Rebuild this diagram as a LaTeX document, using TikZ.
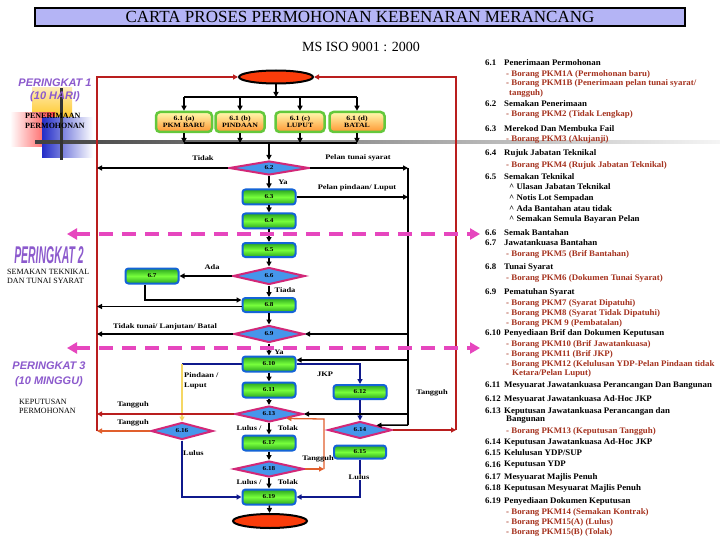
\documentclass[tikz,border=0pt]{standalone}
\usepackage{fontspec}
\setmainfont{Liberation Serif}
\newfontfamily\lblfont{Liberation Serif}[FakeStretch=1.2]
\newfontfamily\rcfont{Liberation Serif}[FakeStretch=1.04]
\newfontfamily\wafont{Liberation Sans}
\usetikzlibrary{shapes.geometric,arrows.meta,calc}
\definecolor{procblue}{RGB}{20,100,215}
\definecolor{limeA}{RGB}{40,165,30}
\definecolor{limeB}{RGB}{120,255,60}
\definecolor{optgreen}{RGB}{100,200,60}
\definecolor{optY}{RGB}{255,250,175}
\definecolor{optO}{RGB}{255,150,50}
\definecolor{decfill}{RGB}{70,150,235}
\definecolor{decline}{RGB}{210,40,120}
\definecolor{termfill}{RGB}{250,60,10}
\definecolor{loopred}{RGB}{185,30,30}
\definecolor{tangorange}{RGB}{225,95,45}
\definecolor{navy}{RGB}{15,25,140}
\definecolor{yelline}{RGB}{245,215,100}
\definecolor{pinkdash}{RGB}{230,70,190}
\definecolor{borang}{RGB}{165,50,30}
\definecolor{wapurple}{RGB}{140,90,205}
\definecolor{titlefill}{RGB}{180,180,245}
\definecolor{yell}{RGB}{255,200,40}
\definecolor{decored}{RGB}{255,60,60}
\definecolor{decoblue}{RGB}{35,45,200}
\newcounter{rcc}
\newcommand\rcHead[3]{\stepcounter{rcc}\node[rc] (rcn\arabic{rcc}) at (485,#1) {#2};\node[rc] (rct\arabic{rcc}) at (504,#1) {#3};}
\newcommand\rcBor[2]{\stepcounter{rcc}\node[rc,text=borang] (rcb\arabic{rcc}) at (506,#1) {- #2};}
\newcommand\rcTxt[4]{\stepcounter{rcc}\node[rc,text=#3] (rcx\arabic{rcc}) at (#1,#2) {#4};}
\begin{document}
\begin{tikzpicture}[x=1pt,y=-1pt,
  blk/.style={draw=black, line width=1.5pt},
  arr/.style={blk, -{Triangle[length=5pt,width=5pt]}},
  navyl/.style={draw=navy, line width=1.3pt},
  navyarr/.style={navyl, -{Triangle[length=5pt,width=5pt]}},
  redl/.style={draw=loopred, line width=1.3pt},
  redarr/.style={redl, -{Triangle[length=5pt,width=5pt]}},
  orarr/.style={draw=tangorange, line width=1.3pt, -{Triangle[length=5pt,width=5pt]}},
  yelarr/.style={draw=yelline, line width=1.3pt, -{Triangle[length=5pt,width=5pt,fill=orange]}},
  pdash/.style={draw=pinkdash, line width=3.5pt, dash pattern=on 14pt off 9pt, {Triangle[length=10pt,width=11pt]}-{Triangle[length=10pt,width=11pt]}},
  proc/.style={rectangle, rounded corners=3pt, draw=procblue, line width=2pt, top color=limeA, bottom color=limeA, middle color=limeB, minimum width=53pt, minimum height=15pt, inner sep=0, font=\lblfont\bfseries\fontsize{6}{6}\selectfont},
  opt/.style={rectangle, rounded corners=4pt, draw=optgreen, line width=2.5pt, top color=optY, bottom color=optO, minimum height=20pt, inner sep=0, align=center, font=\lblfont\bfseries\fontsize{6.5}{7.5}\selectfont},
  dec/.style={diamond, aspect=4, draw=decline, fill=decfill, line width=2pt, inner sep=0, font=\lblfont\bfseries\fontsize{6}{6}\selectfont},
  term/.style={ellipse, draw=black, line width=2pt, fill=termfill, minimum width=74pt, minimum height=13pt, inner sep=0},
  lbl/.style={inner sep=0, font=\lblfont\bfseries\fontsize{7}{7}\selectfont},
  rc/.style={anchor=west, inner sep=0, font=\rcfont\bfseries\fontsize{8.5}{9}\selectfont},
  wa/.style={inner sep=0, text=wapurple, font=\wafont\bfseries\itshape\fontsize{11}{11}\selectfont},
  lt/.style={inner sep=0, anchor=west, align=left, font=\fontsize{8}{9}\selectfont}]
\useasboundingbox (0,0) rectangle (720,540);
\fill[white] (0,0) rectangle (720,540);
% template decoration
\shade[top color=yell!35, bottom color=yell] (32,88) rectangle (72,118);
\shade[left color=white, right color=decored] (10,113) rectangle (55,147);
\shade[left color=decoblue, right color=white] (42,118) rectangle (93,158);
\shade[left color=black!75, right color=black!4] (35,140.5) rectangle (720,143.5);
\fill[black!80] (60,88) rectangle (63,160);
% title
\node[draw, line width=2.5pt, fill=titlefill, minimum width=650pt, minimum height=18pt, inner sep=0, font=\fontsize{17}{18}\selectfont] (title) at (360,17) {CARTA PROSES PERMOHONAN KEBENARAN MERANCANG};
\node[font=\fontsize{14}{14}\selectfont, inner sep=0] (iso) at (361,47) {MS ISO 9001 : 2000};
% left texts
\node[wa] (pk1) at (55,83) {PERINGKAT 1};
\node[wa] (pk1b) at (55,97) {(10 HARI)};
\node[lt, font=\bfseries\fontsize{8}{9.5}\selectfont] (st1) at (25,121) {PENERIMAAN\\PERMOHONAN};
\node[wa] (pk2) at (49,255) {\scalebox{0.95}[2.2]{PERINGKAT 2}};
\node[lt] (st2) at (7,276) {SEMAKAN TEKNIKAL\\DAN TUNAI SYARAT};
\node[wa] (pk3) at (49,366) {PERINGKAT 3};
\node[wa] (pk3b) at (49,382) {(10 MINGGU)};
\node[lt] (st3) at (19,406) {KEPUTUSAN\\PERMOHONAN};
% nodes
\node[term] (start) at (276,77) {};
\node[opt, minimum width=56pt] (a) at (184,122) {6.1 (a)\\PKM BARU};
\node[opt, minimum width=49pt] (b) at (240,122) {6.1 (b)\\PINDAAN};
\node[opt, minimum width=49pt] (c) at (300,122) {6.1 (c)\\LUPUT};
\node[opt, minimum width=55pt] (d) at (357,122) {6.1 (d)\\BATAL};
\node[dec, minimum width=80pt, minimum height=14pt] (d62) at (269,168) {6.2};
\node[proc] (p63) at (269,197) {6.3};
\node[proc] (p64) at (269,221) {6.4};
\node[proc, minimum height=14pt] (p65) at (269,250) {6.5};
\node[dec, minimum width=72pt, minimum height=17pt] (d66) at (269,276) {6.6};
\node[proc] (p67) at (152,276) {6.7};
\node[proc, minimum height=14pt] (p68) at (269,305) {6.8};
\node[dec, minimum width=70pt, minimum height=17pt] (d69) at (269,334) {6.9};
\node[proc] (p610) at (269,364) {6.10};
\node[proc] (p611) at (269,390) {6.11};
\node[dec, minimum width=68pt, minimum height=16pt] (d613) at (269,414) {6.13};
\node[proc] (p617) at (269,443) {6.17};
\node[dec, minimum width=70pt, minimum height=16pt] (d618) at (269,469) {6.18};
\node[proc] (p619) at (269,497) {6.19};
\node[term, minimum height=14pt] (end) at (270,521) {};
\node[dec, minimum width=62pt, minimum height=17pt] (d616) at (182,431) {6.16};
\node[proc, minimum height=14pt] (p612) at (360,392) {6.12};
\node[dec, minimum width=64pt, minimum height=17pt] (d614) at (360,430) {6.14};
\node[proc, minimum width=52pt, minimum height=13pt] (p615) at (360,452) {6.15};
% coordinates
\coordinate (jt) at (276,97);
\coordinate (jb) at (269,143);
\coordinate (LT) at (97,77);
\coordinate (LB) at (97,431);
\coordinate (RT) at (456,77);
\coordinate (RB) at (456,430);
\coordinate (VT) at (408,168);
\coordinate (VB) at (408,425);
\coordinate (tg1) at (324,469);
\coordinate (tg2) at (324,419);
% red loops
\draw[redarr] (LB) -- (LT) -- (start.west);
\draw[redarr] (RB) -- (RT) -- (start.east);
% top distribution
\draw[arr] (start.south) -- (jt);
\draw[blk] (a|-jt) -- (d|-jt);
\foreach \n in {a,b,c,d} {\draw[arr] (\n|-jt) -- (\n.north); \draw[arr] (\n.south) -- (\n|-jb);}
\draw[blk] (a|-jb) -- (d|-jb);
\draw[arr] (jb) -- (d62.north);
% right black collector
\draw[blk] (VT) -- (VB);
\draw[arr] (d62.east) -- (VT);
\draw[arr] (p63.east) -- (p63.east -| VT);
\draw[arr] (d62.west) -- (d62.west -| LT);
% main column
\draw[arr] (d62) -- (p63);
\draw[arr] (p63) -- (p64);
\draw[arr] (p64) -- (p65);
\draw[arr] (p65) -- (d66);
\draw[arr] (d66.west) -- (p67.east);
\draw[arr] (d66) -- (p68);
\draw[arr] ([xshift=-7pt]p67.south) |- ([yshift=5pt]p68.west);
\draw[arr] ([yshift=-1.5pt]p68.west) -- ([yshift=-1.5pt]p68.west -| LT);
\draw[arr] (p68) -- (d69);
\draw[arr] (d69.west) -- (d69.west -| LT);
\draw[arr] (d69.east -| VT) -- (d69.east);
\draw[arr] (d69) -- (p610);
\draw[arr] ([yshift=4pt]p610.east -| VT) -- ([yshift=4pt]p610.east);
\draw[navyl] (p610.west) -- (p610.west -| d616);
\draw[yelarr] (p610.west -| d616) -- (d616.north);
\draw[navyarr] (p610.east) -| (p612.north);
\draw[arr] (p610) -- (p611);
\draw[arr] (p611) -- (d613);
\draw[navyarr] (p612) -- (d614.north);
\draw[arr] (d613.east -| VT) -- (d613.east);
\draw[arr] (VB) -- (d614.north east);
\draw[redarr] (d614.east) -- (RB);
\draw[redarr] (d613.west) -- (d613.west -| LT);
\draw[orarr] (d616.west) -- (LB);
\draw[arr] (d613) -- (p617);
\draw[arr] (p617) -- (d618);
\draw[orarr] (d618.east) -- (tg1);
\draw[orarr] (tg1) -- (tg2) -- (d613.south east);
\draw[arr] (d618) -- (p619);
\draw[navyarr] (d616.south) |- (p619.west);
\draw[navyarr] (p615.south) |- (p619.east);
\draw[arr] (p619) -- (end);
% dashed phase lines
\coordinate (dl1) at (67,234); \coordinate (dr1) at (480,234);
\coordinate (dl2) at (67,348); \coordinate (dr2) at (480,348);
\draw[pdash] (dl1) -- (dr1);
\draw[pdash] (dl2) -- (dr2);
% labels
\node[lbl] (l1) at (203,158) {Tidak};
\node[lbl] (l2) at (358,158) {Pelan tunai syarat};
\node[lbl] (l3) at (283,182) {Ya};
\node[lbl] (l4) at (357,188) {Pelan pindaan/ Luput};
\node[lbl] (l5) at (212,267) {Ada};
\node[lbl] (l6) at (285,290) {Tiada};
\node[lbl] (l7) at (165,327) {Tidak tunai/ Lanjutan/ Batal};
\node[lbl] (l8) at (279,352) {Ya};
\node[lbl, anchor=west] (l9) at (184,375) {Pindaan /};
\node[lbl, anchor=west] (l10) at (184,386) {Luput};
\node[lbl] (l11) at (325,374) {JKP};
\node[lbl] (l12) at (133,405) {Tangguh};
\node[lbl] (l13) at (133,423) {Tangguh};
\node[lbl] (l14) at (432,393) {Tangguh};
\node[lbl] (l15) at (249,428) {Lulus /};
\node[lbl] (l16) at (288,428) {Tolak};
\node[lbl, anchor=west] (l17) at (183,453) {Lulus};
\node[lbl] (l18) at (318,459) {Tangguh};
\node[lbl] (l19) at (249,482) {Lulus /};
\node[lbl] (l20) at (288,482) {Tolak};
\node[lbl, fill=white, inner sep=1pt] (l21) at (359,477) {Lulus};
% right column
\rcHead{63}{6.1}{Penerimaan Permohonan}
\rcBor{74}{Borang PKM1A (Permohonan baru)}
\rcBor{83}{Borang PKM1B (Penerimaan pelan tunai syarat/}
\rcTxt{509}{93}{borang}{tangguh)}
\rcHead{104}{6.2}{Semakan Penerimaan}
\rcBor{114}{Borang PKM2 (Tidak Lengkap)}
\rcHead{129}{6.3}{Merekod Dan Membuka Fail}
\rcBor{139}{Borang PKM3 (Akujanji)}
\rcHead{153}{6.4}{Rujuk Jabatan Teknikal}
\rcBor{165}{Borang PKM4 (Rujuk Jabatan Teknikal)}
\rcHead{177}{6.5}{Semakan Teknikal}
\rcTxt{509}{187}{black}{\textasciicircum\ Ulasan Jabatan Teknikal}
\rcTxt{509}{198}{black}{\textasciicircum\ Notis Lot Sempadan}
\rcTxt{509}{209}{black}{\textasciicircum\ Ada Bantahan atau tidak}
\rcTxt{509}{219}{black}{\textasciicircum\ Semakan Semula Bayaran Pelan}
\rcHead{233}{6.6}{Semak Bantahan}
\rcHead{243}{6.7}{Jawatankuasa Bantahan}
\rcBor{254}{Borang PKM5 (Brif Bantahan)}
\rcHead{267}{6.8}{Tunai Syarat}
\rcBor{278}{Borang PKM6 (Dokumen Tunai Syarat)}
\rcHead{292}{6.9}{Pematuhan Syarat}
\rcBor{303}{Borang PKM7 (Syarat Dipatuhi)}
\rcBor{313}{Borang PKM8 (Syarat Tidak Dipatuhi)}
\rcBor{323}{Borang PKM 9 (Pembatalan)}
\rcHead{333}{6.10}{Penyediaan Brif dan Dokumen Keputusan}
\rcBor{344}{Borang PKM10 (Brif Jawatankuasa)}
\rcBor{354}{Borang PKM11 (Brif JKP)}
\rcBor{364}{Borang PKM12 (Kelulusan YDP-Pelan Pindaan tidak}
\rcTxt{512}{373}{borang}{Ketara/Pelan Luput)}
\rcHead{385}{6.11}{Mesyuarat Jawatankuasa Perancangan Dan Bangunan}
\rcHead{399}{6.12}{Mesyuarat Jawatankuasa Ad-Hoc JKP}
\rcHead{411}{6.13}{Keputusan Jawatankuasa Perancangan dan}
\rcTxt{506}{420}{black}{Bangunan}
\rcBor{431}{Borang PKM13 (Keputusan Tangguh)}
\rcHead{442}{6.14}{Keputusan Jawatankuasa Ad-Hoc JKP}
\rcHead{453}{6.15}{Kelulusan YDP/SUP}
\rcHead{465}{6.16}{Keputusan YDP}
\rcHead{477}{6.17}{Mesyuarat Majlis Penuh}
\rcHead{488}{6.18}{Keputusan Mesyuarat Majlis Penuh}
\rcHead{501}{6.19}{Penyediaan Dokumen Keputusan}
\rcBor{512}{Borang PKM14 (Semakan Kontrak)}
\rcBor{522}{Borang PKM15(A) (Lulus)}
\rcBor{532}{Borang PKM15(B) (Tolak)}
\end{tikzpicture}
\end{document}
